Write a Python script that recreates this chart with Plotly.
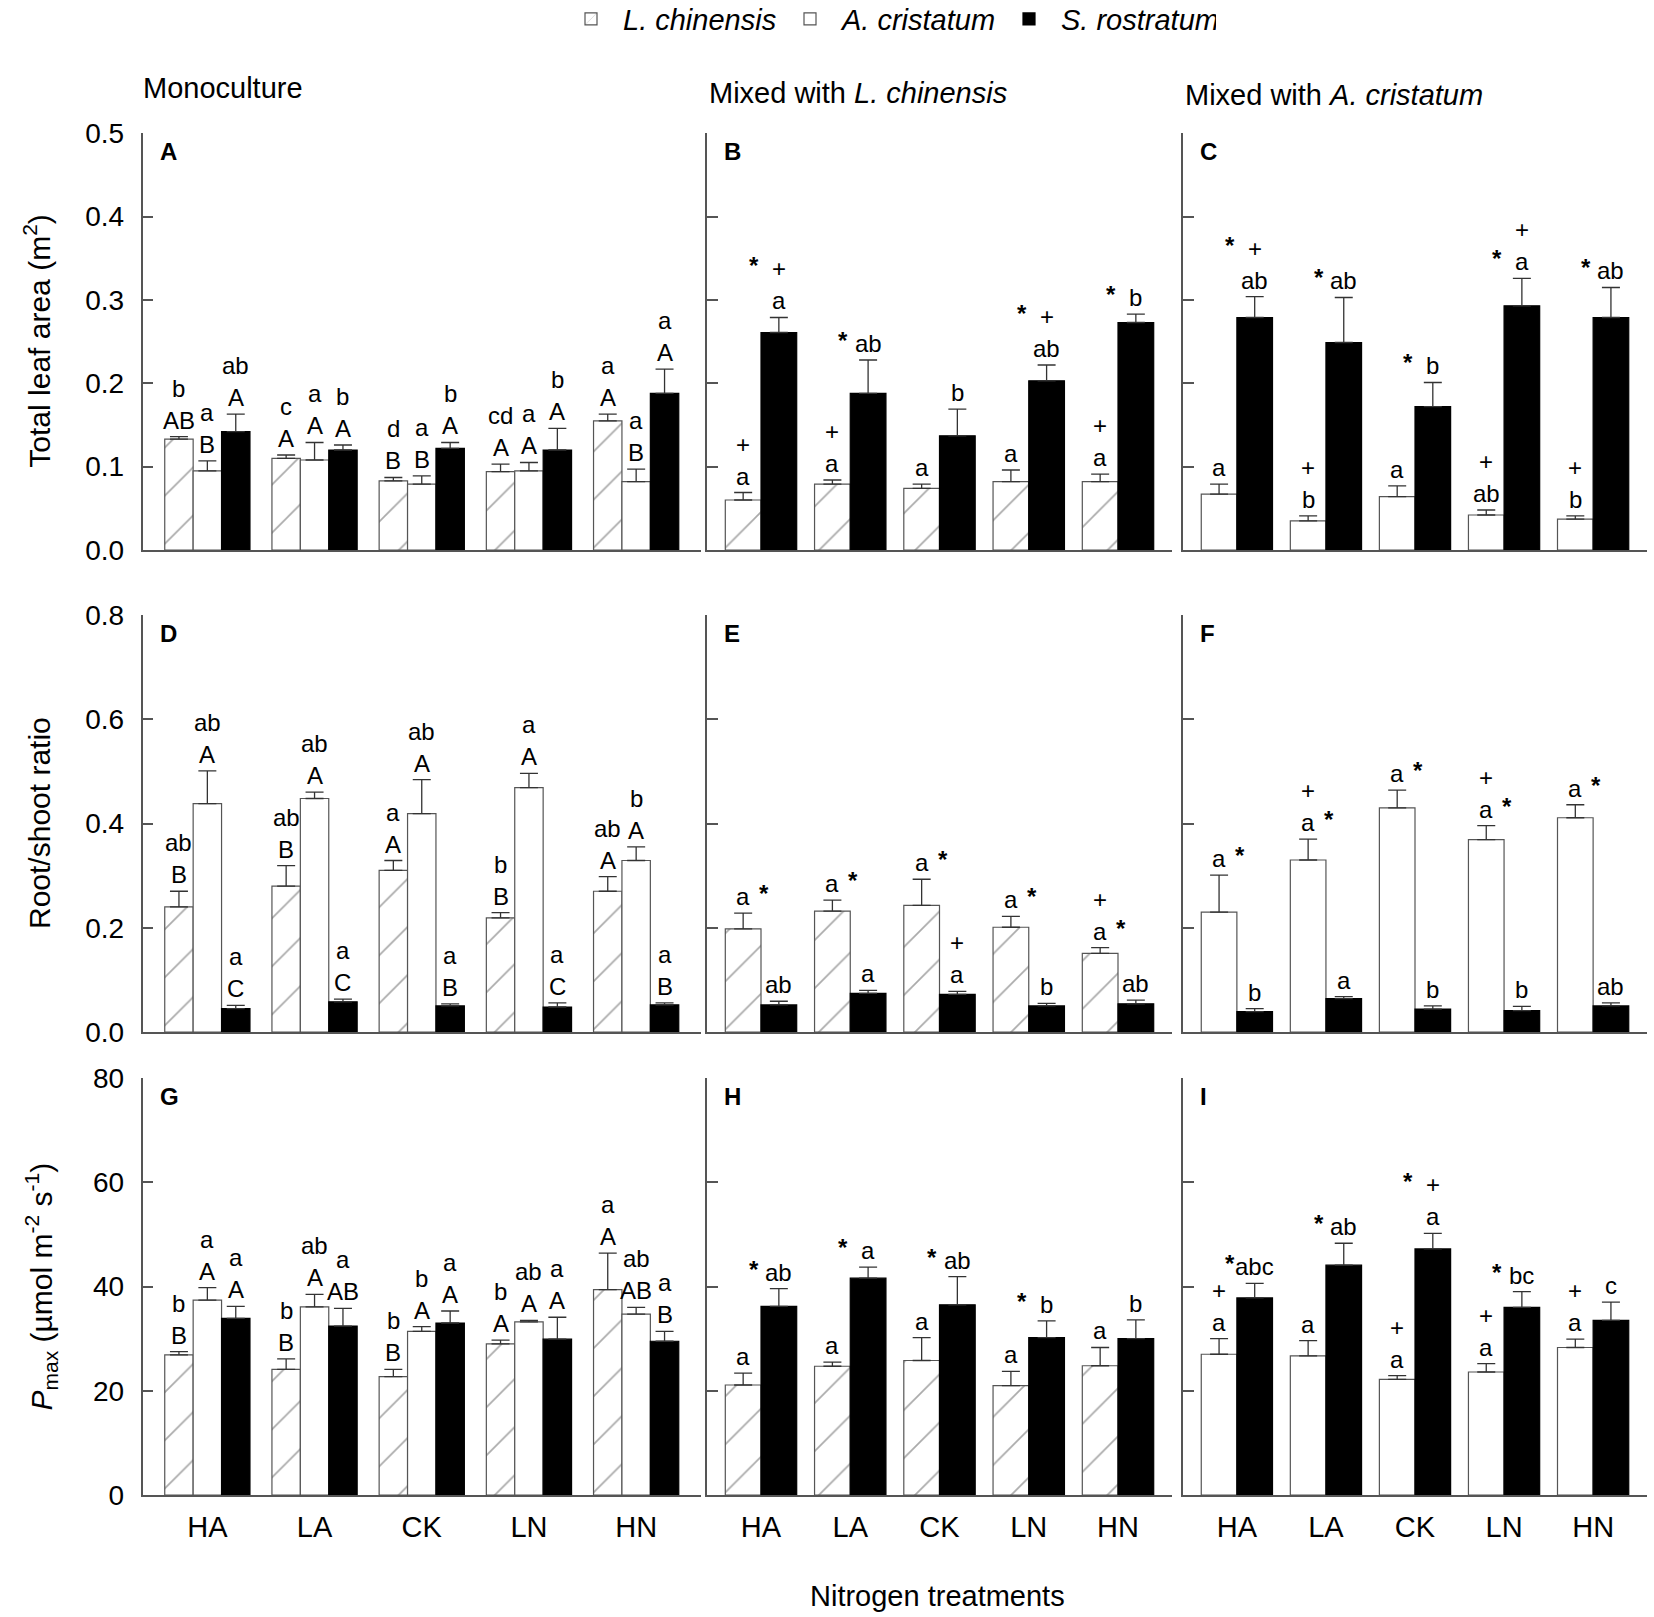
import plotly.graph_objects as go

categories = ["HA", "LA", "CK", "LN", "HN"]

# ---- Row 1: Total leaf area (m2) ----
A_lc = [0.133, 0.110, 0.083, 0.094, 0.155]; A_lc_se = [0.003, 0.004, 0.004, 0.009, 0.008]
A_ac = [0.095, 0.108, 0.079, 0.095, 0.082]; A_ac_se = [0.012, 0.021, 0.010, 0.010, 0.015]
A_sr = [0.142, 0.120, 0.122, 0.120, 0.188]; A_sr_se = [0.021, 0.006, 0.007, 0.026, 0.029]
B_lc = [0.060, 0.079, 0.074, 0.082, 0.082]; B_lc_se = [0.009, 0.005, 0.005, 0.014, 0.009]
B_sr = [0.261, 0.188, 0.137, 0.203, 0.273]; B_sr_se = [0.018, 0.040, 0.032, 0.019, 0.010]
C_ac = [0.067, 0.035, 0.064, 0.042, 0.037]; C_ac_se = [0.012, 0.006, 0.013, 0.006, 0.004]
C_sr = [0.279, 0.249, 0.172, 0.293, 0.279]; C_sr_se = [0.025, 0.054, 0.029, 0.033, 0.036]

# ---- Row 2: Root/shoot ratio ----
D_lc = [0.240, 0.280, 0.310, 0.219, 0.270]; D_lc_se = [0.030, 0.039, 0.019, 0.010, 0.028]
D_ac = [0.438, 0.448, 0.419, 0.469, 0.329]; D_ac_se = [0.063, 0.012, 0.065, 0.027, 0.026]
D_sr = [0.045, 0.058, 0.050, 0.048, 0.052]; D_sr_se = [0.006, 0.005, 0.004, 0.008, 0.004]
E_lc = [0.198, 0.232, 0.243, 0.201, 0.151]; E_lc_se = [0.030, 0.021, 0.050, 0.021, 0.011]
E_sr = [0.052, 0.074, 0.072, 0.050, 0.054]; E_sr_se = [0.007, 0.006, 0.006, 0.005, 0.007]
F_ac = [0.230, 0.330, 0.430, 0.369, 0.411]; F_ac_se = [0.071, 0.040, 0.034, 0.027, 0.025]
F_sr = [0.039, 0.064, 0.044, 0.041, 0.050]; F_sr_se = [0.006, 0.004, 0.006, 0.008, 0.006]

# ---- Row 3: Pmax ----
G_lc = [26.9, 24.1, 22.7, 29.0, 39.4]; G_lc_se = [0.6, 2.0, 1.4, 0.7, 7.0]
G_ac = [37.4, 36.1, 31.4, 33.2, 34.7]; G_ac_se = [2.4, 2.4, 0.9, 0.3, 1.3]
G_sr = [33.9, 32.4, 33.0, 29.9, 29.5]; G_sr_se = [2.3, 3.4, 2.3, 4.2, 1.9]
H_lc = [21.1, 24.7, 25.8, 21.0, 24.8]; H_lc_se = [2.3, 0.8, 4.4, 2.7, 3.5]
H_sr = [36.2, 41.6, 36.5, 30.2, 30.0]; H_sr_se = [3.4, 2.1, 5.4, 3.2, 3.6]
I_ac = [27.0, 26.7, 22.2, 23.6, 28.3]; I_ac_se = [3.0, 2.9, 0.7, 1.6, 1.6]
I_sr = [37.8, 44.1, 47.2, 36.0, 33.5]; I_sr_se = [2.8, 4.2, 3.0, 3.0, 3.5]

# ---- significance labels (stacked upward; '<'/'>' = beside previous token) ----
A_lc_lab = ["AB b", "A c", "B d", "A cd", "A a"]
A_ac_lab = ["B a", "A a", "B a", "A a", "B a"]
A_sr_lab = ["A ab", "A b", "A b", "A b", "A a"]
B_lc_lab = ["a +", "a +", "a", "a", "a +"]
B_sr_lab = ["a + <*", "ab <*", "b", "ab + <*", "b <*"]
C_ac_lab = ["a", "b +", "a", "ab +", "b +"]
C_sr_lab = ["ab + <*", "ab <*", "b <*", "a <* +", "ab <*"]
D_lc_lab = ["B ab", "B ab", "A a", "B b", "A ab"]
D_ac_lab = ["A ab", "A ab", "A ab", "A a", "A b"]
D_sr_lab = ["C a", "C a", "B a", "C a", "B a"]
E_lc_lab = ["a >*", "a >*", "a >*", "a >*", "a >* +"]
E_sr_lab = ["ab", "a", "a +", "b", "ab"]
F_ac_lab = ["a >*", "a >* +", "a >*", "a >* +", "a >*"]
F_sr_lab = ["b", "a", "b", "b", "ab"]
G_lc_lab = ["B b", "B b", "B b", "A b", "A a"]
G_ac_lab = ["A a", "A ab", "A b", "A ab", "AB ab"]
G_sr_lab = ["A a", "AB a", "A a", "A a", "B a"]
H_lc_lab = ["a", "a", "a", "a", "a"]
H_sr_lab = ["ab <*", "a <*", "ab <*", "b <*", "b"]
I_ac_lab = ["a +", "a", "a +", "a +", "a +"]
I_sr_lab = ["abc <*", "ab <*", "a + <*", "bc <*", "c"]

species_names = ["<i>L. chinensis</i>", "<i>A. cristatum</i>", "<i>S. rostratum</i>"]
panel_letters = ["A", "B", "C", "D", "E", "F", "G", "H", "I"]
col_titles = ["Monoculture", "Mixed with <i>L. chinensis</i>", "Mixed with <i>A. cristatum</i>"]
row_titles = ["Total leaf area (m<sup>2</sup>)", "Root/shoot ratio",
              "<i>P</i><sub>max</sub> (µmol m<sup>-2</sup> s<sup>-1</sup>)"]
x_title = "Nitrogen treatments"
row_ranges = [[0, 0.5], [0, 0.8], [0, 80]]
row_dticks = [0.1, 0.2, 20]
row_fmt = [".1f", ".1f", "d"]

# panel contents: list of (species index, values, se, labels)
panels = [
    [(0, A_lc, A_lc_se, A_lc_lab), (1, A_ac, A_ac_se, A_ac_lab), (2, A_sr, A_sr_se, A_sr_lab)],
    [(0, B_lc, B_lc_se, B_lc_lab), (2, B_sr, B_sr_se, B_sr_lab)],
    [(1, C_ac, C_ac_se, C_ac_lab), (2, C_sr, C_sr_se, C_sr_lab)],
    [(0, D_lc, D_lc_se, D_lc_lab), (1, D_ac, D_ac_se, D_ac_lab), (2, D_sr, D_sr_se, D_sr_lab)],
    [(0, E_lc, E_lc_se, E_lc_lab), (2, E_sr, E_sr_se, E_sr_lab)],
    [(1, F_ac, F_ac_se, F_ac_lab), (2, F_sr, F_sr_se, F_sr_lab)],
    [(0, G_lc, G_lc_se, G_lc_lab), (1, G_ac, G_ac_se, G_ac_lab), (2, G_sr, G_sr_se, G_sr_lab)],
    [(0, H_lc, H_lc_se, H_lc_lab), (2, H_sr, H_sr_se, H_sr_lab)],
    [(1, I_ac, I_ac_se, I_ac_lab), (2, I_sr, I_sr_se, I_sr_lab)],
]

W, H = 1654, 1617
col_px = [(142.5, 701), (707, 1172), (1183, 1647)]
row_px = [(133.3, 550), (615, 1032), (1078, 1495)]

FONT = "Liberation Sans, Arial, sans-serif"
AXIS = "#555555"
EDGE = "#555555"
ERR = "#333333"
LAB_SIZE = 24
LAB_STEP = 32


def marker_for(sp):
    if sp == 0:
        return dict(color="white", line=dict(color=EDGE, width=1.2),
                    pattern=dict(shape="/", size=34, solidity=0.05, fgcolor="#555555", bgcolor="white"))
    if sp == 1:
        return dict(color="white", line=dict(color=EDGE, width=1.2))
    return dict(color="black", line=dict(color="black", width=1.2))


fig = go.Figure()
annotations = []
shown = set()
layout_axes = {}

for p, content in enumerate(panels):
    r, c = divmod(p, 3)
    sfx = "" if p == 0 else str(p + 1)
    xa, ya = "x" + sfx, "y" + sfx
    n = len(content)
    if n == 3:
        w = 0.265
        offs = [-w, 0, w]
    else:
        w = 0.40
        offs = [-0.2, 0.2]
    for k, (sp, vals, se, labs) in enumerate(content):
        xs = [i + offs[k] for i in range(len(categories))]
        fig.add_trace(go.Bar(
            x=xs, y=vals, width=w, xaxis=xa, yaxis=ya,
            name=species_names[sp], legendgroup=str(sp),
            showlegend=(sp not in shown),
            marker=marker_for(sp),
            error_y=dict(type="data", symmetric=False, array=se,
                         arrayminus=[0] * len(se), color=ERR, thickness=1.3, width=9),
        ))
        shown.add(sp)
        # significance labels
        for i, lab in enumerate(labs):
            top = vals[i] + se[i]
            level = -1
            for tok in lab.split():
                xshift = 0
                extra = 0
                if tok[0] in "<>":
                    xshift = -25 if tok[0] == "<" else 21
                    txt = tok[1:]
                    lvl = max(level, 0)
                else:
                    level += 1
                    lvl = level
                    txt = tok
                if txt == "*":
                    txt = "<b>*</b>"
                    extra = 3
                annotations.append(dict(
                    x=xs[i], y=top, xref=xa, yref=ya, text=txt, showarrow=False,
                    xanchor="center", yanchor="bottom", xshift=xshift,
                    yshift=1 + lvl * LAB_STEP + extra,
                    font=dict(family=FONT, size=LAB_SIZE, color="black")))

    x0, x1 = col_px[c]
    y0, y1 = row_px[r]
    layout_axes["xaxis" + sfx] = dict(
        domain=[x0 / W, x1 / W], range=[-0.605, 4.605], anchor=ya, automargin=False,
        showline=True, linecolor=AXIS, linewidth=1.5, showgrid=False, zeroline=False,
        ticks="", tickmode="array", tickvals=list(range(len(categories))), ticktext=categories,
        ticklabelstandoff=5,
        showticklabels=(r == 2), tickfont=dict(family=FONT, size=29, color="black"),
        fixedrange=True)
    layout_axes["yaxis" + sfx] = dict(
        domain=[1 - y1 / H, 1 - y0 / H], range=row_ranges[r], anchor=xa, automargin=False,
        showline=True, linecolor=AXIS, linewidth=1.5, showgrid=False, zeroline=False,
        ticks="inside", ticklen=11, tickwidth=1.5, tickcolor=AXIS,
        dtick=row_dticks[r], tick0=0, tickformat=row_fmt[r], ticklabelstandoff=11,
        showticklabels=(c == 0), tickfont=dict(family=FONT, size=28, color="black"),
        fixedrange=True)

    # panel letter
    annotations.append(dict(
        x=0, y=1, xref=xa + " domain", yref=ya + " domain", text="<b>%s</b>" % panel_letters[p],
        showarrow=False, xanchor="left", yanchor="top", xshift=15, yshift=-3,
        font=dict(family=FONT, size=24, color="black")))

# row (y-axis) titles, rotated
row_title_right = [58, 58, 64]
for r in range(3):
    y0, y1 = row_px[r]
    annotations.append(dict(
        x=row_title_right[r] / W, y=1 - (y0 + y1) / 2 / H, xref="paper", yref="paper",
        text=row_titles[r], textangle=-90, showarrow=False, xanchor="right", yanchor="middle",
        font=dict(family=FONT, size=30, color="black")))

# column titles
col_title_y = [88, 93, 95]
for c in range(3):
    annotations.append(dict(
        x=col_px[c][0] / W - (2 / W if c == 0 else 0), y=1 - col_title_y[c] / H, xref="paper", yref="paper",
        text=col_titles[c], showarrow=False, xanchor="left", yanchor="middle",
        font=dict(family=FONT, size=29, color="black")))

# x axis title
annotations.append(dict(
    x=937 / W, y=1 - 1596 / H, xref="paper", yref="paper", text=x_title,
    showarrow=False, xanchor="center", yanchor="middle",
    font=dict(family=FONT, size=29, color="black")))

fig.update_layout(
    width=W, height=H, margin=dict(l=0, r=0, t=0, b=0, autoexpand=False),
    paper_bgcolor="white", plot_bgcolor="white",
    barmode="overlay", annotations=annotations,
    font=dict(family=FONT, color="black"),
    legend=dict(orientation="h", x=559 / W, xanchor="left", y=1.004, yanchor="top",
                font=dict(family=FONT, size=29, color="black"), itemwidth=54,
                entrywidth=150, entrywidthmode="pixels",
                traceorder="normal", bgcolor="rgba(0,0,0,0)"),
    **layout_axes,
)

fig.write_html("out.html", config={"displayModeBar": False},
               post_script="document.body.style.margin='0px';")
